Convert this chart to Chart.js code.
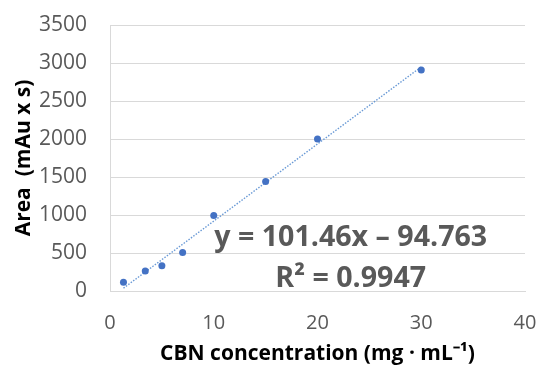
<!DOCTYPE html>
<html>
<head>
<meta charset="utf-8">
<script src="https://cdn.jsdelivr.net/npm/chart.js@4/dist/chart.umd.min.js"></script>
<style>
  html, body { margin: 0; padding: 0; background: #fff; }
  #wrap { width: 538px; height: 367px; }
</style>
</head>
<body>
<div id="wrap"><canvas id="chartCanvas" width="538" height="367"></canvas></div>
<script>
// concentrations (mg/mL) and peak areas
const concValues = [1.3, 3.4, 5, 7, 10, 15, 20, 30];
const areaValues = [115, 263, 333, 505, 992, 1440, 1999, 2908];
const xTicks = [0, 10, 20, 30, 40];
const yTicks = [0, 500, 1000, 1500, 2000, 2500, 3000, 3500];
// trendline as printed on the chart
const slope = 101.46;
const intercept = -94.763;
const eqLines = ["y = 101.46x \u2013 94.763", "R\u00b2 = 0.9947"];

document.addEventListener("DOMContentLoaded", () => {
  const ctx = document.getElementById("chartCanvas").getContext("2d");

  const points = concValues.map((x, i) => ({ x: x, y: areaValues[i] }));
  const xMin = Math.min(...concValues);
  const xMax = Math.max(...concValues);
  const trend = [
    { x: xMin, y: slope * xMin + intercept },
    { x: xMax, y: slope * xMax + intercept },
  ];

  // equation label, drawn like Excel's trendline label
  const eqLabel = {
    id: "eqLabel",
    afterDatasetsDraw(chart) {
      const { ctx, chartArea } = chart;
      const cx = chartArea.left + chartArea.width * 0.58;
      ctx.save();
      ctx.font = "bold 29px 'Open Sans'";
      ctx.fillStyle = "#595959";
      ctx.textAlign = "center";
      ctx.textBaseline = "alphabetic";
      const k = 273 / ctx.measureText(eqLines[0]).width;
      ctx.translate(cx, 0);
      ctx.scale(k, 1);
      ctx.fillText(eqLines[0], 0, chartArea.bottom - 45);
      ctx.fillText(eqLines[1], 0, chartArea.bottom - 4);
      ctx.restore();
    },
  };

  new Chart(ctx, {
    type: "scatter",
    data: {
      datasets: [
        {
          label: "Area",
          data: points,
          backgroundColor: "#4472c4",
          borderWidth: 0,
          pointRadius: 3.5,
          order: 1,
        },
        {
          type: "line",
          label: "Linear",
          data: trend,
          borderColor: "#6a9ad6",
          borderWidth: 1.4,
          borderDash: [1.5, 1.5],
          pointRadius: 0,
          fill: false,
          order: 2,
        },
      ],
    },
    options: {
      responsive: false,
      animation: false,
      layout: { padding: { top: 25, right: 13, left: 0, bottom: 0 } },
      plugins: {
        legend: { display: false },
        tooltip: { enabled: false },
      },
      scales: {
        x: {
          type: "linear",
          min: 0,
          max: 40,
          afterBuildTicks: (s) => { s.ticks = xTicks.map((v) => ({ value: v })); },
          afterFit: (s) => { s.height = 76; },
          grid: { display: false, drawTicks: true, tickLength: 20, tickColor: "transparent" },
          border: { display: true, color: "#d9d9d9", width: 1 },
          ticks: {
            color: "#595959",
            font: { family: "'Open Sans'", size: 20 },
            padding: 0,
            maxRotation: 0,
            callback: (v) => String(v),
          },
          title: {
            display: true,
            text: "CBN concentration (mg \u00b7 mL\u207b\u00b9)",
            color: "#000",
            font: { family: "'Open Sans'", size: 21, weight: "bold" },
            padding: { top: 0, bottom: 0 },
          },
        },
        y: {
          min: 0,
          max: 3500,
          afterBuildTicks: (s) => { s.ticks = yTicks.map((v) => ({ value: v })); },
          afterFit: (s) => { s.width = 110; },
          grid: { color: "#d9d9d9", lineWidth: 1, drawTicks: true, tickLength: 23, tickColor: "transparent" },
          border: { display: true, color: "#d9d9d9", width: 1 },
          ticks: {
            color: "#595959",
            font: { family: "'Open Sans'", size: 21 },
            padding: 0,
            callback: (v) => String(v),
          },
          title: {
            display: true,
            text: "Area  (mAu x s)",
            color: "#000",
            font: { family: "'Open Sans'", size: 21, weight: "bold" },
            padding: { top: 11, bottom: 0 },
          },
        },
      },
    },
    plugins: [eqLabel],
  });
});
</script>
</body>
</html>
